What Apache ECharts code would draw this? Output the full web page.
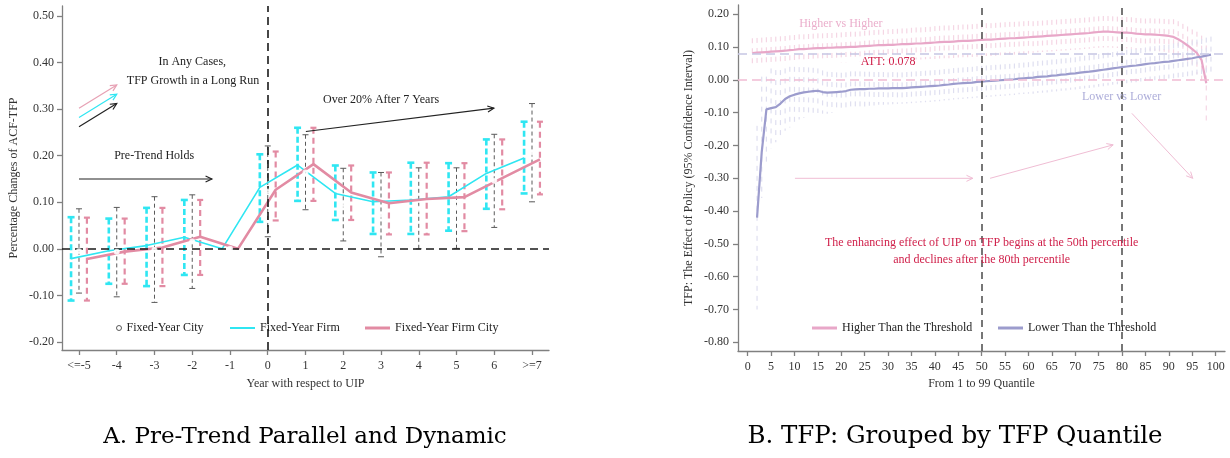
<!DOCTYPE html>
<html><head><meta charset="utf-8">
<script src="https://cdn.jsdelivr.net/npm/echarts@6/dist/echarts.min.js"></script>
<style>html,body{margin:0;padding:0;background:#fff}#c{width:1230px;height:458px}</style>
</head><body><div id="c"></div>
<script>
// ---------- Panel A data ----------
const years = [-5, -4, -3, -2, -1, 0, 1, 2, 3, 4, 5, 6, 7];
const yearLabels = ['<=-5', '-4', '-3', '-2', '-1', '0', '1', '2', '3', '4', '5', '6', '>=7'];
const cityVal = [-0.005, -0.006, -0.002, 0.016, 0, 0.123, 0.164, 0.096, 0.073, 0.086, 0.088, 0.146, 0.207];
const cityLo  = [-0.095, -0.103, -0.115, -0.085, null, 0.026, 0.084, 0.017, -0.017, 0.000, 0.001, 0.046, 0.101];
const cityHi  = [0.086, 0.089, 0.112, 0.116, null, 0.221, 0.245, 0.173, 0.164, 0.174, 0.174, 0.246, 0.312];
const firmVal = [-0.021, -0.004, 0.007, 0.025, 0, 0.132, 0.180, 0.119, 0.101, 0.105, 0.112, 0.162, 0.195];
const firmLo  = [-0.111, -0.075, -0.080, -0.056, null, 0.058, 0.103, 0.062, 0.032, 0.032, 0.039, 0.086, 0.119];
const firmHi  = [0.068, 0.065, 0.088, 0.105, null, 0.203, 0.260, 0.179, 0.164, 0.185, 0.184, 0.235, 0.273];
const fcVal   = [-0.022, -0.006, 0.003, 0.026, 0, 0.127, 0.182, 0.121, 0.098, 0.107, 0.111, 0.152, 0.192];
const fcLo    = [-0.111, -0.075, -0.080, -0.056, null, 0.061, 0.103, 0.062, 0.031, 0.031, 0.038, 0.085, 0.117];
const fcHi    = [0.067, 0.065, 0.088, 0.105, null, 0.209, 0.260, 0.179, 0.164, 0.185, 0.184, 0.235, 0.273];
const yTicksA = [-0.2, -0.1, 0, 0.1, 0.2, 0.3, 0.4, 0.5];

// ---------- Panel B data ----------
const higherStartQ = 1;   // Higher vs Higher: quantiles 1..98
const higherVal = [0.082,0.083,0.084,0.085,0.086,0.087,0.088,0.089,0.091,0.092,
0.094,0.094,0.095,0.096,0.097,0.097,0.098,0.098,0.099,0.099,
0.100,0.101,0.101,0.102,0.103,0.104,0.105,0.106,0.106,0.107,
0.107,0.108,0.109,0.109,0.110,0.111,0.111,0.112,0.113,0.114,
0.115,0.116,0.116,0.117,0.118,0.119,0.119,0.120,0.121,0.122,
0.123,0.123,0.124,0.125,0.126,0.127,0.127,0.128,0.129,0.130,
0.131,0.132,0.133,0.134,0.135,0.136,0.137,0.138,0.139,0.140,
0.141,0.142,0.143,0.145,0.146,0.147,0.147,0.146,0.145,0.144,
0.144,0.143,0.141,0.140,0.139,0.139,0.138,0.137,0.136,0.134,
0.131,0.124,0.115,0.105,0.094,0.082,0.060,-0.010];
const higherLo = [0.037,0.038,0.039,0.040,0.041,0.042,0.043,0.044,0.046,0.047,
0.049,0.049,0.050,0.051,0.052,0.052,0.053,0.053,0.054,0.053,
0.054,0.055,0.055,0.056,0.056,0.057,0.058,0.059,0.059,0.059,
0.059,0.060,0.061,0.061,0.061,0.062,0.062,0.063,0.064,0.064,
0.065,0.066,0.066,0.067,0.068,0.069,0.069,0.070,0.071,0.072,
0.073,0.073,0.074,0.075,0.076,0.077,0.077,0.078,0.079,0.080,
0.083,0.084,0.085,0.086,0.087,0.088,0.089,0.090,0.091,0.092,
0.093,0.094,0.095,0.097,0.098,0.099,0.099,0.098,0.097,0.096,
0.096,0.095,0.093,0.092,0.091,0.090,0.089,0.087,0.086,0.083,
0.077,0.069,0.059,0.047,0.034,0.017,-0.015,-0.125];
const higherHi = [0.127,0.128,0.129,0.130,0.131,0.132,0.133,0.134,0.136,0.137,
0.139,0.139,0.140,0.141,0.142,0.142,0.143,0.143,0.144,0.145,
0.146,0.147,0.147,0.148,0.150,0.151,0.152,0.153,0.153,0.155,
0.155,0.156,0.157,0.157,0.159,0.160,0.160,0.161,0.162,0.164,
0.165,0.166,0.166,0.167,0.168,0.169,0.169,0.170,0.171,0.172,
0.173,0.173,0.174,0.175,0.176,0.177,0.177,0.178,0.179,0.180,
0.179,0.180,0.181,0.182,0.183,0.184,0.185,0.186,0.187,0.188,
0.189,0.190,0.191,0.193,0.194,0.195,0.195,0.194,0.193,0.192,
0.192,0.191,0.189,0.188,0.187,0.188,0.187,0.187,0.186,0.185,
0.185,0.179,0.171,0.163,0.154,0.147,0.135,0.105];

const lowerStartQ = 2;    // Lower vs Lower: quantiles 2..99
const lowerVal = [-0.420,-0.220,-0.090,-0.086,-0.083,-0.072,-0.058,-0.050,-0.045,
-0.041,-0.038,-0.036,-0.034,-0.033,-0.037,-0.039,-0.038,-0.037,-0.036,
-0.034,-0.030,-0.029,-0.028,-0.028,-0.027,-0.027,-0.026,-0.026,-0.026,
-0.025,-0.025,-0.025,-0.024,-0.023,-0.022,-0.021,-0.020,-0.019,-0.018,
-0.017,-0.015,-0.014,-0.012,-0.011,-0.010,-0.009,-0.008,-0.006,-0.005,
-0.004,-0.003,-0.002,-0.001,0.000,0.001,0.002,0.004,0.005,0.006,
0.007,0.009,0.010,0.011,0.013,0.014,0.016,0.017,0.019,0.020,
0.022,0.024,0.025,0.027,0.029,0.031,0.033,0.035,0.037,0.039,
0.041,0.043,0.044,0.046,0.048,0.050,0.051,0.053,0.055,0.056,
0.058,0.060,0.062,0.064,0.066,0.069,0.071,0.074,0.077];
const lowerLo = [-0.700,-0.360,-0.250,-0.210,-0.190,-0.170,-0.155,-0.145,-0.135,
-0.121,-0.115,-0.110,-0.105,-0.101,-0.103,-0.103,-0.100,-0.097,-0.094,
-0.091,-0.086,-0.084,-0.082,-0.081,-0.079,-0.078,-0.076,-0.076,-0.075,
-0.074,-0.073,-0.073,-0.072,-0.071,-0.070,-0.069,-0.068,-0.067,-0.066,
-0.065,-0.063,-0.062,-0.060,-0.059,-0.058,-0.057,-0.056,-0.054,-0.053,
-0.052,-0.051,-0.050,-0.049,-0.048,-0.047,-0.046,-0.044,-0.043,-0.042,
-0.042,-0.040,-0.039,-0.038,-0.036,-0.035,-0.033,-0.032,-0.030,-0.029,
-0.028,-0.026,-0.025,-0.023,-0.021,-0.019,-0.017,-0.015,-0.013,-0.011,
-0.010,-0.008,-0.007,-0.005,-0.003,-0.002,-0.001,0.001,0.003,0.004,
0.005,0.007,0.009,0.011,0.012,0.015,0.017,0.019,0.022];
const lowerHi = [-0.140,0.010,0.010,0.035,0.030,0.030,0.035,0.040,0.040,
0.039,0.039,0.038,0.037,0.035,0.029,0.025,0.024,0.023,0.022,
0.023,0.026,0.026,0.026,0.025,0.025,0.024,0.024,0.024,0.023,
0.024,0.023,0.023,0.024,0.025,0.026,0.027,0.028,0.029,0.030,
0.031,0.033,0.034,0.036,0.037,0.038,0.039,0.040,0.042,0.043,
0.044,0.045,0.046,0.047,0.048,0.049,0.050,0.052,0.053,0.054,
0.056,0.058,0.059,0.060,0.062,0.063,0.065,0.066,0.068,0.069,
0.072,0.074,0.075,0.077,0.079,0.081,0.083,0.085,0.087,0.089,
0.092,0.094,0.095,0.097,0.099,0.102,0.103,0.105,0.107,0.108,
0.111,0.113,0.115,0.117,0.120,0.123,0.125,0.129,0.132];
const attValue = 0.078;
const cutoffs = [50, 80];
const xTicksB = [0,5,10,15,20,25,30,35,40,45,50,55,60,65,70,75,80,85,90,95,100];
const yTicksB = [-0.8,-0.7,-0.6,-0.5,-0.4,-0.3,-0.2,-0.1,0,0.1,0.2];

// ---------- styles ----------
const FONT = 'Liberation Serif';
const CYAN = '#2fe6f2', PINK = '#e28ba3', GREY = '#5a5a5a';
const HPINK = '#e8a7c8', LAV = '#9c9ccd';
const HPINK_CI = '#f5d6e4', LAV_CI = '#dfdff0';
const CRIMSON = '#d0214b';
const OFF = 0.21;

function pairs(xs, vals, off) { return xs.map((x, i) => [x + off, vals[i]]); }
function ciData(xs, lo, hi, off) {
  const d = [];
  xs.forEach((x, i) => { if (lo[i] != null) d.push([x + off, lo[i], hi[i]]); });
  return d;
}
function qData(start, vals) { return vals.map((v, i) => [start + i, v]); }
function qCI(start, lo, hi) { return lo.map((v, i) => [start + i, v, hi[i]]); }

function errBars(name, data, color, width, dash, capW, z) {
  return {
    type: 'custom', name: name, xAxisIndex: 0, yAxisIndex: 0, silent: true, z: z,
    data: data, encode: { x: 0, y: [1, 2] },
    renderItem: function (params, api) {
      const x = api.value(0);
      const a = api.coord([x, api.value(1)]);
      const b = api.coord([x, api.value(2)]);
      return { type: 'group', children: [
        { type: 'line', shape: { x1: b[0], y1: b[1], x2: a[0], y2: a[1] }, style: { stroke: color, lineWidth: width, lineDash: dash } },
        { type: 'line', shape: { x1: b[0] - capW / 2, y1: b[1], x2: b[0] + capW / 2, y2: b[1] }, style: { stroke: color, lineWidth: width } },
        { type: 'line', shape: { x1: a[0] - capW / 2, y1: a[1], x2: a[0] + capW / 2, y2: a[1] }, style: { stroke: color, lineWidth: width } }
      ]};
    }
  };
}
function ciDash(name, data, color, z) {
  return {
    type: 'custom', name: name, xAxisIndex: 1, yAxisIndex: 1, silent: true, z: z,
    data: data, encode: { x: 0, y: [1, 2] },
    renderItem: function (params, api) {
      const x = api.value(0);
      const a = api.coord([x, api.value(1)]);
      const b = api.coord([x, api.value(2)]);
      return { type: 'line', shape: { x1: b[0], y1: b[1], x2: a[0], y2: a[1] }, style: { stroke: color, lineWidth: 1.2, lineDash: [5, 5] } };
    }
  };
}

const axisLineStyle = { color: '#808080', width: 1.3 };
const labelStyle = { fontFamily: FONT, fontSize: 12, color: '#333' };
const legendText = { fontFamily: FONT, fontSize: 12, color: '#222' };

const chart = echarts.init(document.getElementById('c'), null, { renderer: 'canvas' });
const option = {
  animation: false,
  backgroundColor: '#fff',
  grid: [
    { left: 62, top: 6, width: 487, height: 344 },
    { left: 738, top: 5, width: 487, height: 346 }
  ],
  xAxis: [
    { type: 'value', gridIndex: 0, min: -5.45, max: 7.45,
      name: 'Year with respect to UIP', nameLocation: 'middle', nameGap: 28,
      nameTextStyle: labelStyle,
      axisLine: { show: true, onZero: false, lineStyle: axisLineStyle },
      axisTick: { show: true, length: 5, lineStyle: axisLineStyle, customValues: years },
      axisLabel: { margin: 10, ...labelStyle, customValues: years,
        formatter: v => yearLabels[years.indexOf(Math.round(v))] },
      splitLine: { show: false } },
    { type: 'value', gridIndex: 1, min: -2.07, max: 102,
      name: 'From 1 to 99 Quantile', nameLocation: 'middle', nameGap: 27,
      nameTextStyle: labelStyle,
      axisLine: { show: true, onZero: false, lineStyle: axisLineStyle },
      axisTick: { show: true, length: 5, lineStyle: axisLineStyle, customValues: xTicksB },
      axisLabel: { margin: 10, ...labelStyle, customValues: xTicksB, formatter: v => String(Math.round(v)) },
      splitLine: { show: false } }
  ],
  yAxis: [
    { type: 'value', gridIndex: 0, min: -0.2172, max: 0.5215,
      name: 'Percentage Changes of ACF-TFP', nameLocation: 'middle', nameGap: 42, nameRotate: 90,
      nameTextStyle: labelStyle,
      axisLine: { show: true, onZero: false, lineStyle: axisLineStyle },
      axisTick: { show: true, length: 5, lineStyle: axisLineStyle, customValues: yTicksA },
      axisLabel: { margin: 8, ...labelStyle, customValues: yTicksA, formatter: v => v.toFixed(2) },
      splitLine: { show: false } },
    { type: 'value', gridIndex: 1, min: -0.8265, max: 0.2284,
      name: 'TFP: The Effect of Policy (95% Confidence Interval)', nameLocation: 'middle', nameGap: 43, nameRotate: 90,
      nameTextStyle: labelStyle,
      axisLine: { show: true, onZero: false, lineStyle: axisLineStyle },
      axisTick: { show: true, length: 5, lineStyle: axisLineStyle, customValues: yTicksB },
      axisLabel: { margin: 9, ...labelStyle, customValues: yTicksB, formatter: v => v.toFixed(2) },
      splitLine: { show: false } }
  ],
  legend: [
    { data: [{ name: 'Fixed-Year City', icon: 'circle', itemStyle: { color: '#fff', borderColor: '#333', borderWidth: 1 } }],
      left: 111, top: 317, itemWidth: 5, itemHeight: 5, textStyle: legendText, selectedMode: false },
    { data: [{ name: 'Fixed-Year Firm', icon: 'rect', itemStyle: { color: CYAN, borderWidth: 0 } }],
      left: 225, top: 317, itemWidth: 25, itemHeight: 2, textStyle: legendText, selectedMode: false },
    { data: [{ name: 'Fixed-Year Firm City', icon: 'rect', itemStyle: { color: PINK, borderWidth: 0 } }],
      left: 360, top: 317, itemWidth: 25, itemHeight: 3, textStyle: legendText, selectedMode: false },
    { data: [{ name: 'Higher Than the Threshold', icon: 'rect', itemStyle: { color: HPINK, borderWidth: 0 } }],
      left: 807, top: 317, itemWidth: 25, itemHeight: 3, textStyle: legendText, selectedMode: false },
    { data: [{ name: 'Lower Than the Threshold', icon: 'rect', itemStyle: { color: LAV, borderWidth: 0 } }],
      left: 993, top: 317, itemWidth: 25, itemHeight: 3, textStyle: legendText, selectedMode: false }
  ],
  series: [
    // Panel A
    errBars('firm_ci', ciData(years, firmLo, firmHi, -OFF), CYAN, 2.6, [6, 3], 7, 3),
    errBars('city_ci', ciData(years, cityLo, cityHi, 0), GREY, 1, [4, 3], 6, 3),
    errBars('fc_ci', ciData(years, fcLo, fcHi, OFF), PINK, 2.2, [6, 4], 6, 3),
    { type: 'line', name: 'Fixed-Year Firm', xAxisIndex: 0, yAxisIndex: 0, z: 4,
      data: pairs(years, firmVal, -OFF), symbol: 'none', color: CYAN,
      lineStyle: { color: CYAN, width: 1.6 },
      markLine: { silent: true, symbol: 'none', label: { show: false },
        lineStyle: { color: '#1a1a1a', width: 1.6, type: [8, 5] },
        data: [{ xAxis: 0 }, { yAxis: 0 }] } },
    { type: 'line', name: 'Fixed-Year Firm City', xAxisIndex: 0, yAxisIndex: 0, z: 4,
      data: pairs(years, fcVal, OFF), symbol: 'none', color: PINK,
      lineStyle: { color: PINK, width: 2.6 } },
    { type: 'scatter', name: 'Fixed-Year City', xAxisIndex: 0, yAxisIndex: 0, z: 5,
      data: pairs(years, cityVal, 0), symbol: 'emptyCircle', symbolSize: 4,
      itemStyle: { color: '#fff', borderColor: '#333', borderWidth: 1 } },
    // Panel B
    ciDash('higher_ci', qCI(higherStartQ, higherLo, higherHi), HPINK_CI, 2),
    ciDash('lower_ci', qCI(lowerStartQ, lowerLo, lowerHi), LAV_CI, 2),
    { type: 'line', name: 'Higher Than the Threshold', xAxisIndex: 1, yAxisIndex: 1, z: 4,
      data: qData(higherStartQ, higherVal), symbol: 'none', color: HPINK,
      lineStyle: { color: HPINK, width: 2.2 } },
    { type: 'line', name: 'Lower Than the Threshold', xAxisIndex: 1, yAxisIndex: 1, z: 4,
      data: qData(lowerStartQ, lowerVal), symbol: 'none', color: LAV,
      lineStyle: { color: LAV, width: 2.2 },
      markLine: { silent: true, symbol: 'none', label: { show: false },
        data: [
          { xAxis: cutoffs[0], lineStyle: { color: '#4a4a4a', width: 1.5, type: [7, 5] } },
          { xAxis: cutoffs[1], lineStyle: { color: '#4a4a4a', width: 1.5, type: [7, 5] } },
          { yAxis: attValue, lineStyle: { color: '#c6c6e4', width: 1.5, type: [9, 5] } },
          { yAxis: 0, lineStyle: { color: '#f1bcd3', width: 1.5, type: [9, 5] } }
        ] } }
  ]
};
chart.setOption(option);

// ---------- annotations (anchored in data coordinates) ----------
function P(g, x, y) { return chart.convertToPixel({ gridIndex: g }, [x, y]); }
function txt(g, x, y, s, color, size) {
  const p = P(g, x, y);
  return { type: 'text', z: 10, style: { x: p[0], y: p[1], text: s, fill: color, font: size + 'px "' + FONT + '"', align: 'center', verticalAlign: 'middle' } };
}
function arrow(g, x1, y1, x2, y2, color, w) {
  const a = P(g, x1, y1), b = P(g, x2, y2);
  const ang = Math.atan2(b[1] - a[1], b[0] - a[0]);
  const L = 7, sp = 0.45;
  const h1 = [b[0] - L * Math.cos(ang - sp), b[1] - L * Math.sin(ang - sp)];
  const h2 = [b[0] - L * Math.cos(ang + sp), b[1] - L * Math.sin(ang + sp)];
  return [
    { type: 'line', z: 10, shape: { x1: a[0], y1: a[1], x2: b[0], y2: b[1] }, style: { stroke: color, lineWidth: w } },
    { type: 'polyline', z: 10, shape: { points: [h1, b, h2] }, style: { stroke: color, lineWidth: w, fill: null } }
  ];
}
const graphics = [
  txt(0, -2.0, 0.401, 'In Any Cases,', '#222', 12),
  txt(0, -1.98, 0.361, 'TFP Growth in a Long Run', '#222', 12),
  ...arrow(0, -5, 0.302, -4, 0.352, '#e7a1b4', 1.2),
  ...arrow(0, -5, 0.282, -4, 0.332, CYAN, 1.2),
  ...arrow(0, -5, 0.262, -4, 0.312, '#222', 1.2),
  txt(0, -3.01, 0.200, 'Pre-Trend Holds', '#222', 12),
  ...arrow(0, -5, 0.150, -1.48, 0.150, '#222', 1.2),
  txt(0, 3.0, 0.320, 'Over 20% After 7 Years', '#222', 12),
  ...arrow(0, 1.01, 0.252, 5.99, 0.302, '#222', 1.2),
  txt(1, 19.9, 0.170, 'Higher vs Higher', '#ebafcc', 12),
  txt(1, 30.0, 0.0546, 'ATT: 0.078', CRIMSON, 12),
  txt(1, 79.9, -0.051, 'Lower vs Lower', '#adadd9', 12),
  ...arrow(1, 10.1, -0.300, 48.1, -0.300, '#f0bdd4', 1),
  ...arrow(1, 51.8, -0.300, 78.1, -0.198, '#f0bdd4', 1),
  ...arrow(1, 82.1, -0.102, 95.1, -0.300, '#f0bdd4', 1),
  txt(1, 50, -0.498, 'The enhancing effect of UIP on TFP begins at the 50th percentile', CRIMSON, 12),
  txt(1, 50, -0.549, 'and declines after the 80th percentile', CRIMSON, 12),
  { type: 'text', z: 10, style: { x: 305, y: 437, text: 'A. Pre-Trend Parallel and Dynamic', fill: '#000', font: '23px "DejaVu Serif"', align: 'center', verticalAlign: 'middle' } },
  { type: 'text', z: 10, style: { x: 955, y: 437, text: 'B. TFP: Grouped by TFP Quantile', fill: '#000', font: '24.5px "DejaVu Serif"', align: 'center', verticalAlign: 'middle' } }
];
chart.setOption({ graphic: graphics });
</script></body></html>
